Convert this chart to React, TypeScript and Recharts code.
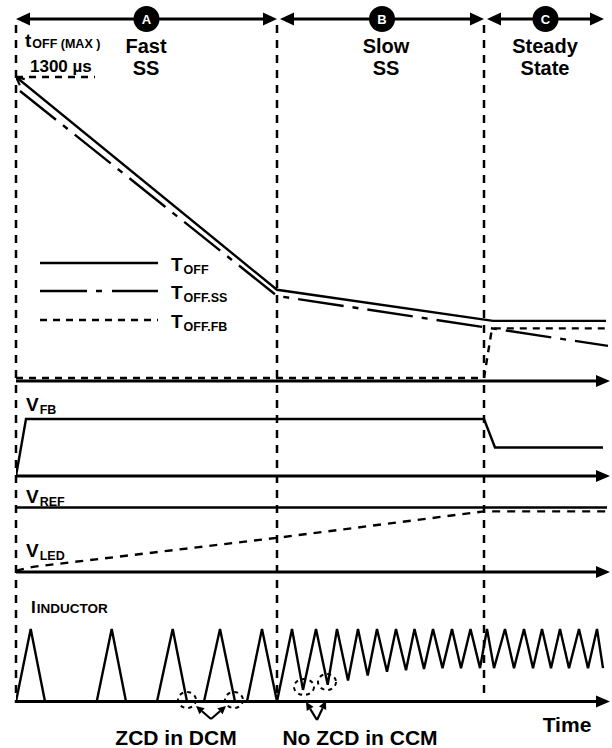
import React from 'react';
import { ComposedChart, Line, XAxis, YAxis, ReferenceLine, ReferenceDot } from 'recharts';

const W = 612;
const H = 748;
const FONT = '"Liberation Sans", Arial, sans-serif';

// phases on the time axis
const phaseEdges = [0, 261, 468];
const phaseIds = ['A', 'B', 'C'];
const phaseFrom = [0, 264, 471];
const phaseTo = [261, 468, 588];

// off time, in us
const toffTime = [0, 261, 477, 590];
const toffValue = [1300, 390, 257, 257];
const toffSsTime = [4, 261, 592];
const toffSsValue = [1240, 364, 150];
const toffFbTime = [0, 468, 476, 592];
const toffFbValue = [13, 13, 225, 225];
const toffMax = 1300;

// voltages, normalised
const vfbTime = [0, 10, 468, 479, 587];
const vfbValue = [0, 1, 1, 0.5, 0.5];
const vrefTime = [0, 591];
const vrefValue = [1, 1];
const vledTime = [0, 17, 261, 468, 591];
const vledValue = [0.02, 0.08, 0.53, 0.94, 0.94];

// inductor current, normalised to peak
const ilTime = [
  0, 14.7, 29, 80.7, 95.7, 110, 141, 156.7, 171, 188, 204, 219, 231, 246, 261,
  276, 287, 300, 311.7, 321, 332, 342, 351.7, 361, 371, 380, 390, 398.5, 408,
  417, 426.5, 436, 445, 454.5, 464, 471, 478, 489, 498, 508, 517, 526, 535,
  544, 553, 563, 572, 581, 587,
];
const ilValue = [
  0, 1, 0, 0, 1, 0, 0, 1, 0, 0, 1, 0, 0, 1, 0,
  1, 0.16, 1, 0.23, 1, 0.29, 1, 0.36, 1, 0.41, 1, 0.43, 1, 0.45,
  1, 0.46, 1, 0.46, 1, 0.46, 1, 0.46, 1, 0.46, 1, 0.46, 1, 0.46,
  1, 0.46, 1, 0.46, 1, 0.46,
];

const pts = (t: number[], v: number[]) => t.map((x, i) => ({ t: x, v: v[i] }));

// y domain so that value 0 sits at pixel y0 and `unit` at pixel y1
const band = (y0: number, y1: number, unit: number): [number, number] => {
  const k = unit / (y0 - y1);
  return [(y0 - H) * k, y0 * k];
};

const panels = [
  { id: 'toff', y0: 381, y1: 77, unit: 1300 },
  { id: 'vfb', y0: 476, y1: 419, unit: 1 },
  { id: 'vref', y0: 572, y1: 507.5, unit: 1 },
  { id: 'il', y0: 701.5, y1: 629, unit: 1 },
];

const AxisArrow = (p: any) => {
  const { x1, y1, x2, y2 } = p;
  return (
    <g>
      <line x1={x1} y1={y1} x2={x2 - 8} y2={y2} stroke="#000" strokeWidth={2.8} />
      <polygon points={`${x2},${y2} ${x2 - 14},${y2 - 6} ${x2 - 14},${y2 + 6}`} fill="#000" />
    </g>
  );
};

const DoubleArrow = (p: any) => {
  const { x1, y1, x2, y2 } = p;
  return (
    <g>
      <line x1={x1 + 8} y1={y1} x2={x2 - 8} y2={y2} stroke="#000" strokeWidth={2.8} />
      <polygon points={`${x1},${y1} ${x1 + 14},${y1 - 6.5} ${x1 + 14},${y1 + 6.5}`} fill="#000" />
      <polygon points={`${x2},${y2} ${x2 - 14},${y2 - 6.5} ${x2 - 14},${y2 + 6.5}`} fill="#000" />
    </g>
  );
};

const StartTip = (p: any) => {
  if (p.index !== 0) return <g key={`d${p.index}`} />;
  const { cx, cy } = p;
  const a = Math.atan2(212, 261);
  const l = 9;
  const s = 0.45;
  const ax = cx + l * Math.cos(a - s);
  const ay = cy + l * Math.sin(a - s);
  const bx = cx + l * Math.cos(a + s);
  const by = cy + l * Math.sin(a + s);
  return (
    <path key="tip" d={`M${ax},${ay} L${cx},${cy} L${bx},${by}`} fill="none" stroke="#000" strokeWidth={2.2} />
  );
};

const Arrow = ({ x1, y1, x2, y2 }: { x1: number; y1: number; x2: number; y2: number }) => {
  const a = Math.atan2(y2 - y1, x2 - x1);
  const l = 8;
  const w = 4;
  const bx = x2 - l * Math.cos(a);
  const by = y2 - l * Math.sin(a);
  const px = -Math.sin(a) * w;
  const py = Math.cos(a) * w;
  return (
    <g>
      <line x1={x1} y1={y1} x2={bx} y2={by} stroke="#000" strokeWidth={2.2} />
      <polygon points={`${x2},${y2} ${bx + px},${by + py} ${bx - px},${by - py}`} fill="#000" />
    </g>
  );
};

const Sig = ({ x, y, main, sub, size = 19, subSize = 12.5, dy = 3 }: any) => (
  <text x={x} y={y} fontSize={size} fontWeight="bold" fontFamily={FONT}>
    {main}
    <tspan fontSize={subSize} dy={dy} dx={1}>{sub}</tspan>
  </text>
);

const lineStyle = { stroke: '#000', strokeWidth: 2.4, dot: false, activeDot: false, isAnimationActive: false, type: 'linear' as const };

export default function App() {
  return (
    <div style={{ position: 'absolute', left: 0, top: 0, width: W, height: H, background: '#fff' }}>
      <ComposedChart width={W} height={H} margin={{ top: 0, right: 0, bottom: 0, left: 16 }}>
        <XAxis type="number" dataKey="t" domain={[0, 596]} hide allowDataOverflow />
        <YAxis yAxisId="px" type="number" domain={[0, H]} reversed hide allowDataOverflow />
        {panels.map((p) => (
          <YAxis key={p.id} yAxisId={p.id} type="number" domain={band(p.y0, p.y1, p.unit)} hide allowDataOverflow />
        ))}

        {phaseEdges.map((t) => (
          <ReferenceLine key={`edge${t}`} yAxisId="px" segment={[{ x: t, y: 25 }, { x: t, y: 703 }]}
            stroke="#000" strokeWidth={2.5} strokeDasharray="8 7" ifOverflow="visible" />
        ))}
        {phaseIds.map((id, i) => (
          <ReferenceLine key={`arr${id}`} yAxisId="px" segment={[{ x: phaseFrom[i], y: 19 }, { x: phaseTo[i], y: 19 }]}
            shape={DoubleArrow} ifOverflow="visible" />
        ))}
        {phaseIds.map((id, i) => (
          <ReferenceDot key={`dot${id}`} yAxisId="px" x={(phaseFrom[i] + phaseTo[i]) / 2} y={19} r={13}
            fill="#000" stroke="none" ifOverflow="visible"
            label={{ value: id, position: 'center', fill: '#fff', fontSize: 13, fontWeight: 'bold', fontFamily: FONT }} />
        ))}

        {panels.map((p) => (
          <ReferenceLine key={`ax${p.id}`} yAxisId={p.id} segment={[{ x: 0, y: 0 }, { x: 594, y: 0 }]}
            shape={AxisArrow} ifOverflow="visible" />
        ))}
        <ReferenceLine yAxisId="toff" segment={[{ x: 0, y: toffMax }, { x: 79, y: toffMax }]}
          stroke="#000" strokeWidth={2.4} strokeDasharray="7 6" ifOverflow="visible" />

        <Line {...lineStyle} yAxisId="toff" data={pts(toffFbTime, toffFbValue)} dataKey="v" strokeDasharray="7 6" />
        <Line {...lineStyle} yAxisId="toff" data={pts(toffSsTime, toffSsValue)} dataKey="v" strokeDasharray="46 9 6 9" />
        <Line {...lineStyle} yAxisId="toff" data={pts(toffTime, toffValue)} dataKey="v" dot={StartTip} />

        <Line {...lineStyle} yAxisId="vfb" data={pts(vfbTime, vfbValue)} dataKey="v" />
        <Line {...lineStyle} yAxisId="vref" data={pts(vrefTime, vrefValue)} dataKey="v" />
        <Line {...lineStyle} yAxisId="vref" data={pts(vledTime, vledValue)} dataKey="v" strokeDasharray="8 7" />
        <Line {...lineStyle} yAxisId="il" data={pts(ilTime, ilValue)} dataKey="v" />
      </ComposedChart>

      <svg width={W} height={H} style={{ position: 'absolute', left: 0, top: 0, pointerEvents: 'none' }}>
        <g fontFamily={FONT} fontWeight="bold">
          <Sig x={25} y={47} main="t" sub="OFF (MAX )" size={19} subSize={12.5} dy={1} />
          <text x={30} y={72} fontSize={17}>1300 µs</text>
          <text x={146} y={53} fontSize={20} textAnchor="middle">Fast</text>
          <text x={146} y={75} fontSize={20} textAnchor="middle">SS</text>
          <text x={386} y={53} fontSize={20} textAnchor="middle">Slow</text>
          <text x={386} y={75} fontSize={20} textAnchor="middle">SS</text>
          <text x={545} y={53} fontSize={20} textAnchor="middle">Steady</text>
          <text x={545} y={75} fontSize={20} textAnchor="middle">State</text>
        </g>

        <line x1={40} y1={263} x2={158} y2={263} stroke="#000" strokeWidth={2.4} />
        <line x1={40} y1={291} x2={158} y2={291} stroke="#000" strokeWidth={2.4} strokeDasharray="47 9 6 10" />
        <line x1={40} y1={320} x2={158} y2={320} stroke="#000" strokeWidth={2.4} strokeDasharray="7 6" />
        <Sig x={171} y={271} main="T" sub="OFF" />
        <Sig x={171} y={299} main="T" sub="OFF.SS" />
        <Sig x={171} y={328} main="T" sub="OFF.FB" />

        <Sig x={26} y={411} main="V" sub="FB" />
        <Sig x={26} y={503} main="V" sub="REF" />
        <Sig x={26} y={557} main="V" sub="LED" />
        <Sig x={31} y={613} main="I" sub="INDUCTOR" size={17} subSize={13.5} dy={0} />

        <g fill="none" stroke="#000" strokeWidth={2} strokeDasharray="4 4">
          <ellipse cx={187} cy={700} rx={9} ry={8} />
          <ellipse cx={234} cy={700} rx={9} ry={8} />
          <ellipse cx={304} cy={687} rx={10} ry={8} />
          <ellipse cx={327} cy={682} rx={9} ry={8} />
        </g>
        <Arrow x1={211} y1={719} x2={196} y2={706} />
        <Arrow x1={211} y1={719} x2={226} y2={706} />
        <Arrow x1={317} y1={720} x2={306} y2={702} />
        <Arrow x1={317} y1={720} x2={326} y2={701} />

        <g fontFamily={FONT} fontWeight="bold" fontSize={21}>
          <text x={176} y={745} textAnchor="middle">ZCD in DCM</text>
          <text x={360} y={745} textAnchor="middle">No ZCD in CCM</text>
          <text x={567} y={732} textAnchor="middle">Time</text>
        </g>
      </svg>
    </div>
  );
}
